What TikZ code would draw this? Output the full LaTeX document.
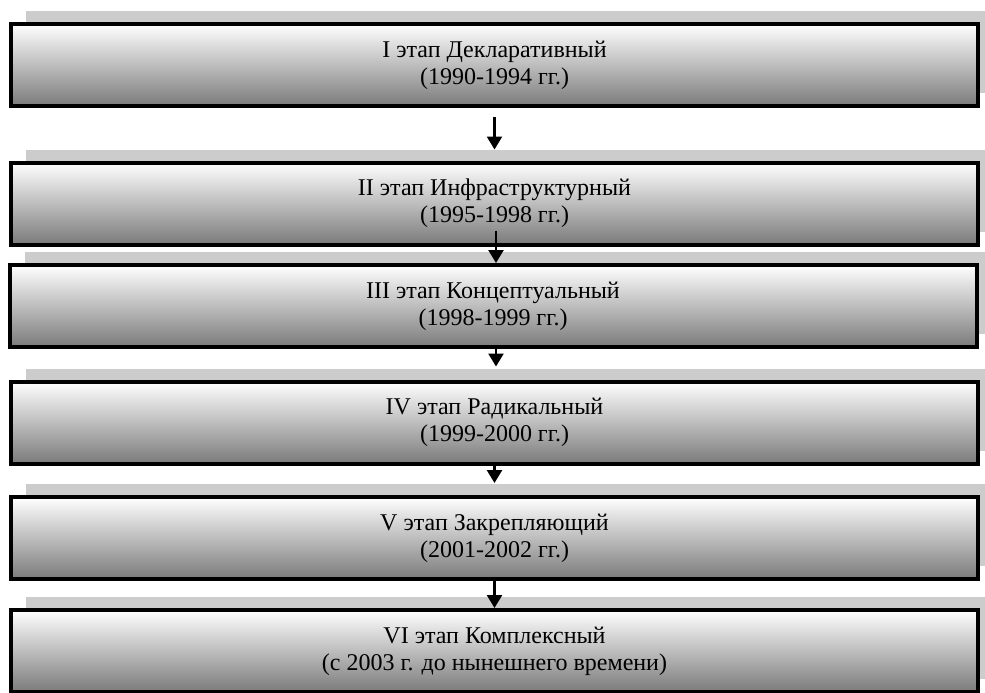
\documentclass[tikz,border=0pt]{standalone}
\usepackage{fontspec}
\setmainfont{Liberation Serif}
\usepackage{tikz}
\usetikzlibrary{shadows,arrows.meta,positioning,calc}

\begin{document}
\begin{tikzpicture}[x=1pt,y=-1pt,
    stage/.style={draw=black,line width=4pt,minimum width=967pt,minimum height=82pt,
        top color=white,middle color=black!20,bottom color=black!52,align=center,
        font=\fontsize{24}{27}\selectfont,
        general shadow={shadow xshift=15pt,shadow yshift=13pt,fill=gray!40}},
    arr/.style={line width=2.5pt,-{Triangle[width=15pt,length=13pt]}}]
    \useasboundingbox (0,0) rectangle (985,693);
    % stages, top to bottom
    \node[stage] (s1) at (494.5,65)  {I этап Декларативный\\(1990-1994 гг.)};
    \node[stage] (s2) at (494.5,203.5) {II этап Инфраструктурный\\(1995-1998 гг.)};
    \node[stage] (s3) at (493,306)   {III этап Концептуальный\\(1998-1999 гг.)};
    \node[stage] (s4) at (494.5,422.5) {IV этап Радикальный\\(1999-2000 гг.)};
    \node[stage] (s5) at (494.5,538) {V этап Закрепляющий\\(2001-2002 гг.)};
    \node[stage] (s6) at (494.5,651) {VI этап Комплексный\\(с 2003 г. до нынешнего времени)};
    % arrows between the stages
    \draw[arr] ([yshift=-9pt]s1.south) -- ([yshift=11pt]s2.north);
    \draw[arr] ([xshift=1.5pt,yshift=16pt]s2.south) -- ([xshift=3pt]s3.north);
    \draw[arr] ([xshift=3pt]s3.south) -- ([xshift=1.5pt,yshift=13pt]s4.north);
    \draw[arr] (s4.south) -- ([yshift=12pt]s5.north);
    \draw[arr] (s5.south) -- (s6.north);
\end{tikzpicture}
\end{document}
